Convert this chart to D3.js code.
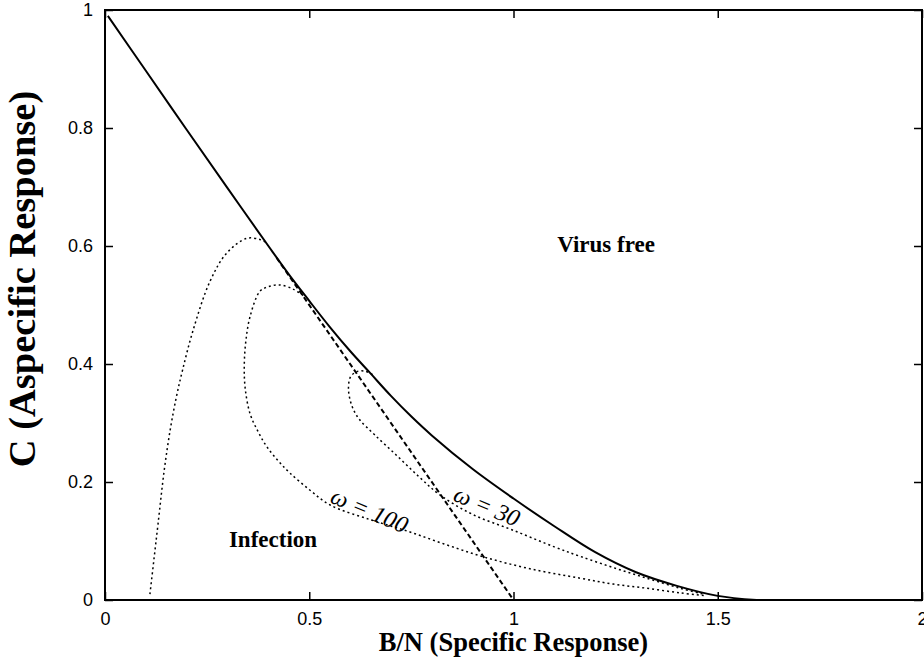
<!DOCTYPE html>
<html>
<head>
<meta charset="utf-8">
<script src="https://cdn.jsdelivr.net/npm/d3@7"></script>
<style>
  body { margin: 0; background: #fff; }
  .tick text { font-family: "Liberation Sans", Arial, sans-serif; font-size: 18px; fill: #000; }
  .tick line { stroke: #000; stroke-width: 1.5; }
  .domain { display: none; }
  .title { font-family: "Liberation Serif", "Times New Roman", serif; font-weight: bold; fill: #000; }
  .omega { font-family: "Liberation Serif", "Times New Roman", serif; font-style: italic; font-size: 24px; fill: #000; }
</style>
</head>
<body>
<div id="chart"></div>
<script>
// axis ticks
var xTicks = [0, 0.5, 1, 1.5, 2]
var xTickLabels = ['0', '0.5', '1', '1.5', '2']
var yTicks = [0, 0.2, 0.4, 0.6, 0.8, 1]
var yTickLabels = ['0', '0.2', '0.4', '0.6', '0.8', '1']

// boundary between infection and virus free region (B/N, C)
var boundary = [[0.007, 0.99], [0.1, 0.897], [0.2, 0.797], [0.3, 0.698], [0.4, 0.6],
  [0.45, 0.552], [0.5, 0.507], [0.55, 0.463], [0.6, 0.422], [0.65, 0.384], [0.7, 0.346],
  [0.75, 0.311], [0.8, 0.279], [0.9, 0.222], [1.0, 0.172], [1.1, 0.125], [1.2, 0.081],
  [1.3, 0.047], [1.4, 0.024], [1.5, 0.007], [1.595, 0]]

// straight dashed line
var dashedLine = [[0.42, 0.58], [1.0, 0.0]]

// dotted curves
var curveLeft = [[0.11, 0.01], [0.12, 0.07], [0.13, 0.13], [0.145, 0.22], [0.16, 0.29],
  [0.175, 0.345], [0.19, 0.39], [0.216, 0.458], [0.257, 0.54], [0.298, 0.588],
  [0.347, 0.613], [0.379, 0.611], [0.392, 0.607]]

var curve100 = [[0.485, 0.516], [0.46, 0.527], [0.428, 0.534], [0.4, 0.531], [0.379, 0.523],
  [0.355, 0.48], [0.345, 0.44], [0.341, 0.4], [0.343, 0.36], [0.355, 0.316], [0.375, 0.285],
  [0.396, 0.26], [0.425, 0.235], [0.453, 0.215], [0.502, 0.186], [0.551, 0.161],
  [0.65, 0.136], [0.739, 0.117], [0.83, 0.095], [0.927, 0.073], [1.04, 0.053],
  [1.163, 0.037], [1.244, 0.027], [1.326, 0.02], [1.408, 0.012], [1.473, 0.007]]

var curve30 = [[0.655, 0.382], [0.636, 0.388], [0.616, 0.387], [0.601, 0.378], [0.596, 0.36],
  [0.6, 0.339], [0.61, 0.32], [0.624, 0.305], [0.66, 0.28], [0.714, 0.245], [0.77, 0.208],
  [0.82, 0.178], [0.9, 0.145], [1.0, 0.118], [1.1, 0.09], [1.163, 0.074], [1.244, 0.055],
  [1.326, 0.037], [1.408, 0.02], [1.465, 0.01]]

var width = 924
var height = 665
var plotLeft = 105
var plotRight = 922
var plotTop = 10
var plotBottom = 600

var x = d3.scaleLinear().domain([0, 2]).range([plotLeft, plotRight])
var y = d3.scaleLinear().domain([0, 1]).range([plotBottom, plotTop])

var svg = d3.select('#chart').append('svg')
  .attr('width', width)
  .attr('height', height)

var line = d3.line()
  .x(function (d) { return x(d[0]) })
  .y(function (d) { return y(d[1]) })
  .curve(d3.curveCatmullRom.alpha(0.5))

// axes with inward ticks
svg.append('g')
  .attr('transform', 'translate(0,' + plotBottom + ')')
  .call(d3.axisBottom(x).tickValues(xTicks).tickSize(-8).tickPadding(12)
    .tickFormat(function (d, i) { return xTickLabels[i] }))

svg.append('g')
  .attr('transform', 'translate(' + plotLeft + ',0)')
  .call(d3.axisLeft(y).tickValues(yTicks).tickSize(-8).tickPadding(12)
    .tickFormat(function (d, i) { return yTickLabels[i] }))

svg.append('g')
  .attr('transform', 'translate(0,' + plotTop + ')')
  .call(d3.axisTop(x).tickValues(xTicks).tickSize(-8).tickFormat(''))

svg.append('g')
  .attr('transform', 'translate(' + plotRight + ',0)')
  .call(d3.axisRight(y).tickValues(yTicks).tickSize(-8).tickFormat(''))

svg.append('rect')
  .attr('x', plotLeft)
  .attr('y', plotTop)
  .attr('width', plotRight - plotLeft)
  .attr('height', plotBottom - plotTop)
  .attr('fill', 'none')
  .attr('stroke', '#000')
  .attr('stroke-width', 2)

// curves
svg.append('path')
  .datum(boundary)
  .attr('d', line)
  .attr('fill', 'none')
  .attr('stroke', '#000')
  .attr('stroke-width', 2)

svg.append('path')
  .datum(dashedLine)
  .attr('d', line)
  .attr('fill', 'none')
  .attr('stroke', '#000')
  .attr('stroke-width', 2)
  .attr('stroke-dasharray', '5,3')

var dotted = svg.append('g')
  .attr('fill', 'none')
  .attr('stroke', '#000')
  .attr('stroke-width', 1.5)
  .attr('stroke-dasharray', '2,3')

;[curveLeft, curve100, curve30].forEach(function (c) {
  dotted.append('path').datum(c).attr('d', line)
})

// labels
svg.append('text')
  .attr('class', 'title')
  .attr('x', 606).attr('y', 252)
  .attr('text-anchor', 'middle')
  .style('font-size', '23px')
  .text('Virus free')

svg.append('text')
  .attr('class', 'title')
  .attr('x', 273).attr('y', 547)
  .attr('text-anchor', 'middle')
  .style('font-size', '23px')
  .text('Infection')

svg.append('text')
  .attr('class', 'omega')
  .attr('transform', 'translate(329,502) rotate(23)')
  .text('ω = 100')

svg.append('text')
  .attr('class', 'omega')
  .attr('transform', 'translate(452,500) rotate(23)')
  .text('ω = 30')

svg.append('text')
  .attr('class', 'title')
  .attr('x', (plotLeft + plotRight) / 2).attr('y', 651)
  .attr('text-anchor', 'middle')
  .style('font-size', '26.5px')
  .text('B/N (Specific Response)')

svg.append('text')
  .attr('class', 'title')
  .attr('transform', 'translate(35,279) rotate(-90)')
  .attr('text-anchor', 'middle')
  .style('font-size', '38.5px')
  .text('C (Aspecific Response)')
</script>
</body>
</html>
